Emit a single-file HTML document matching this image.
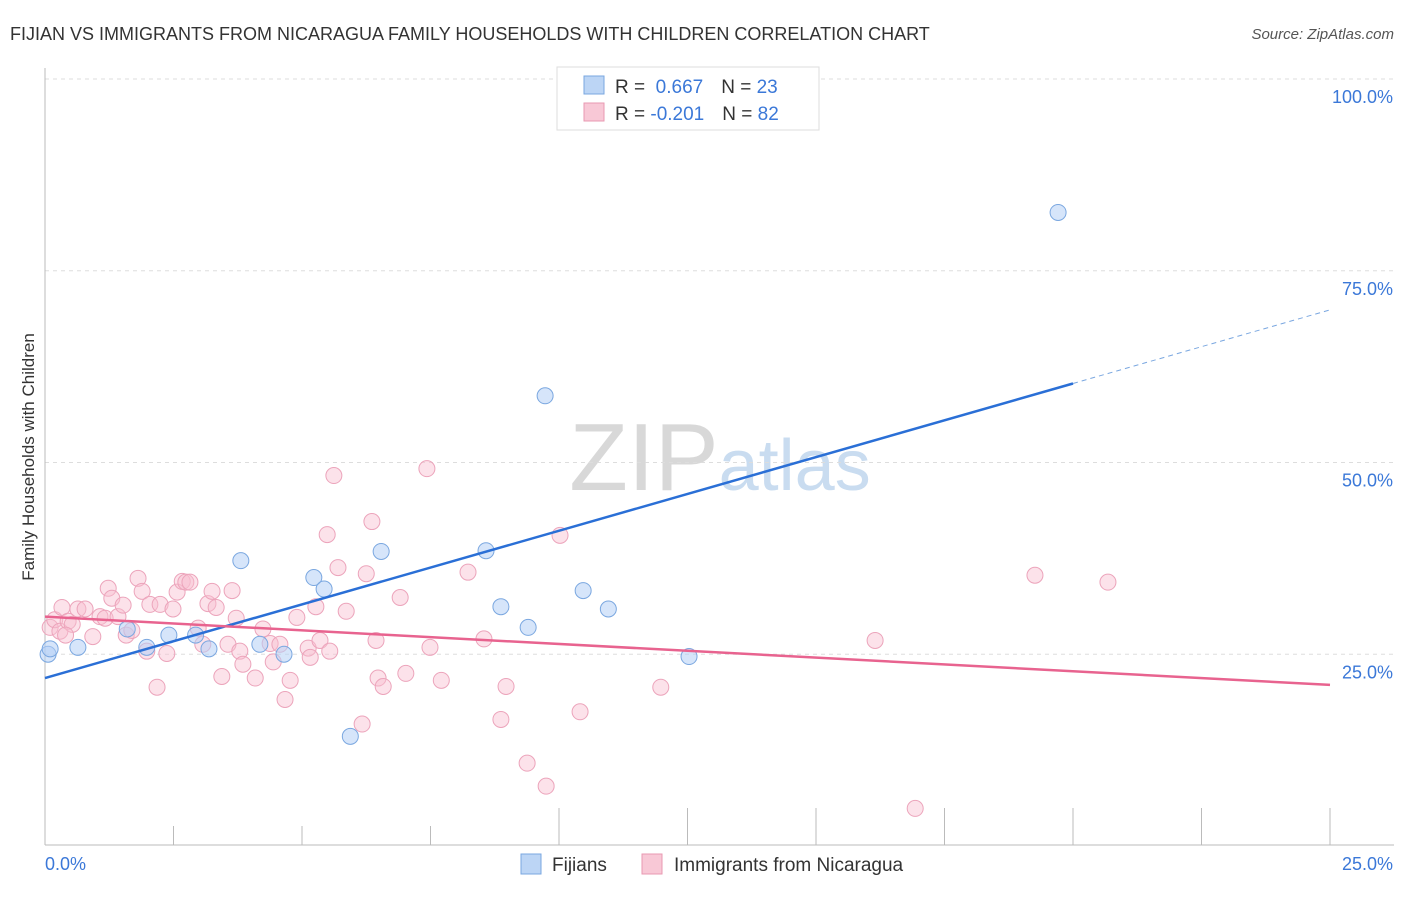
<!DOCTYPE html>
<html><head><meta charset="utf-8"><style>
body{margin:0;background:#fff;font-family:"Liberation Sans",sans-serif;}
svg text{font-family:"Liberation Sans",sans-serif;}
</style></head><body>
<svg id="chart" width="1406" height="892" xmlns="http://www.w3.org/2000/svg">
<text x="10" y="40" font-size="18" fill="#333">FIJIAN VS IMMIGRANTS FROM NICARAGUA FAMILY HOUSEHOLDS WITH CHILDREN CORRELATION CHART</text>
<text x="1394" y="39" font-size="15" fill="#555" text-anchor="end" font-style="italic">Source: ZipAtlas.com</text>
<text x="720" y="490" font-size="96" text-anchor="middle" fill="#ddd" font-family="Liberation Serif"><tspan fill="#d8d8d8">ZIP</tspan><tspan fill="#c9dcf0" font-family="Liberation Sans" font-size="72">atlas</tspan></text>
<g id="grid"></g>
<g id="axes"></g>
<text transform="translate(34,457) rotate(-90)" font-size="17" fill="#333" text-anchor="middle">Family Households with Children</text>
<g id="marks"></g>
<g>
<rect x="557" y="67" width="262" height="63" fill="#fff" stroke="#ddd"/>
<rect x="584" y="76" width="20" height="18" fill="#bcd5f5" stroke="#7aa7e0"/>
<text x="615" y="93" font-size="19" fill="#333">R = <tspan fill="#3b78d8">&#160;0.667</tspan><tspan dx="18" fill="#333">N = </tspan><tspan fill="#3b78d8">23</tspan></text>
<rect x="584" y="103" width="20" height="18" fill="#f8c8d6" stroke="#e899b2"/>
<text x="615" y="120" font-size="19" fill="#333">R = <tspan fill="#3b78d8">-0.201</tspan><tspan dx="18" fill="#333">N = </tspan><tspan fill="#3b78d8">82</tspan></text>
</g>
<g>
<rect x="521" y="854" width="20" height="20" fill="#bcd5f5" stroke="#7aa7e0"/>
<text x="552" y="871" font-size="19" fill="#333">Fijians</text>
<rect x="642" y="854" width="20" height="20" fill="#f8c8d6" stroke="#e899b2"/>
<text x="674" y="871" font-size="19" fill="#333">Immigrants from Nicaragua</text>
</g>
</svg>
<script>
const yTicks=[25,50,75,100];
const yTickLabels=["25.0%","50.0%","75.0%","100.0%"];
const fijiX=[0.06,0.64,1.6,1.98,2.41,2.93,3.19,3.81,4.18,4.65,5.23,5.43,5.94,6.54,8.58,8.87,9.4,9.73,10.47,10.96,12.53,19.71,0.1];
const fijiY=[25.0,25.9,28.3,25.9,27.5,27.5,25.7,37.2,26.3,25.0,35.0,33.5,14.3,38.4,38.5,31.2,28.5,58.7,33.3,30.9,24.7,82.6,25.7];
const nicX=[0.1,0.19,0.29,0.33,0.45,0.53,0.64,0.78,0.93,1.07,1.17,1.23,1.3,1.42,1.52,1.58,1.69,1.81,1.89,1.98,2.04,2.18,2.24,2.37,2.49,2.57,2.67,2.74,2.82,2.98,3.07,3.17,3.25,3.33,3.44,3.56,3.64,3.72,3.79,3.85,4.09,4.24,4.38,4.44,4.57,4.67,4.77,4.9,5.12,5.16,5.27,5.35,5.49,5.54,5.62,5.7,5.86,6.17,6.25,6.36,6.44,6.48,6.58,6.91,7.02,7.49,7.43,7.71,8.23,8.54,8.87,8.97,9.38,9.75,10.02,10.41,11.98,16.15,16.93,19.26,20.68,0.4];
const nicY=[28.5,29.5,28.0,31.1,29.3,28.9,30.9,30.9,27.3,29.9,29.7,33.6,32.3,29.9,31.4,27.5,28.1,34.9,33.2,25.4,31.5,20.7,31.5,25.1,30.9,33.1,34.5,34.4,34.4,28.4,26.3,31.6,33.2,31.1,22.1,26.3,33.3,29.7,25.4,23.7,21.9,28.3,26.4,24.0,26.3,19.1,21.6,29.8,25.8,24.6,31.2,26.8,40.6,25.4,48.3,36.3,30.6,15.9,35.5,42.3,26.8,21.9,20.8,32.4,22.5,25.9,49.2,21.6,35.7,27.0,16.5,20.8,10.8,7.8,40.5,17.5,20.7,26.8,4.9,35.3,34.4,27.5];
const fijiLine=[[0,21.9],[20,60.3],[25,69.9]];
const nicLine=[[0,29.9],[25,21.0]];
const L=45,R=1330,B=846,T=79;
const sx=v=>L+v/25*(R-L);
const sy=v=>B-v/100*(B-T);
const NS="http://www.w3.org/2000/svg";
function mk(tag,attrs,parent){const e=document.createElementNS(NS,tag);for(const k in attrs)e.setAttribute(k,attrs[k]);parent.appendChild(e);return e;}
const grid=document.getElementById('grid'),axes=document.getElementById('axes'),marks=document.getElementById('marks');
yTicks.forEach((t,i)=>{
 const g=mk('line',{x1:45,x2:1394,y1:sy(t),y2:sy(t),stroke:'#ddd','stroke-dasharray':'4,4'},grid);
 
 
 const tx=mk('text',{x:1393,y:sy(t)+24,'font-size':18,fill:'#3b78d8','text-anchor':'end'},axes);
 tx.textContent=yTickLabels[i];
 
 
});
mk('line',{x1:45,x2:45,y1:68,y2:845,stroke:'#bbb'},axes);
mk('line',{x1:45,x2:1394,y1:845,y2:845,stroke:'#bbb'},axes);
for(let i=1;i<=10;i++){
 const x=sx(i*2.5);
 const tk=mk('line',{x1:x,x2:x,y1:i>=4?808:826,y2:845,stroke:'#bbb'},axes);
 
 
}
const xl0=mk('text',{x:45,y:870,'font-size':18,fill:'#3b78d8'},axes);xl0.textContent='0.0%';


const xl1=mk('text',{x:1393,y:870,'font-size':18,fill:'#3b78d8','text-anchor':'end'},axes);xl1.textContent='25.0%';


nicX.forEach((v,i)=>{
 const c=mk('circle',{cx:sx(v),cy:sy(nicY[i]),r:8,fill:'rgba(248,190,208,0.45)',stroke:'#eca4bb','stroke-width':1},marks);
 
 
});
fijiX.forEach((v,i)=>{
 const c=mk('circle',{cx:sx(v),cy:sy(fijiY[i]),r:8,fill:'rgba(180,208,245,0.55)',stroke:'#7aa7e0','stroke-width':1},marks);
 
 
});
const bl=mk('line',{x1:sx(fijiLine[0][0]),y1:sy(fijiLine[0][1]),x2:sx(fijiLine[1][0]),y2:sy(fijiLine[1][1]),stroke:'#2a6fd6','stroke-width':2.5},marks);


const bd=mk('line',{x1:sx(fijiLine[1][0]),y1:sy(fijiLine[1][1]),x2:sx(fijiLine[2][0]),y2:sy(fijiLine[2][1]),stroke:'#7aa7e0','stroke-width':1,'stroke-dasharray':'5,4'},marks);


const pl=mk('line',{x1:sx(nicLine[0][0]),y1:sy(nicLine[0][1]),x2:sx(nicLine[1][0]),y2:sy(nicLine[1][1]),stroke:'#e8638f','stroke-width':2.5},marks);


</script>
</body></html>
